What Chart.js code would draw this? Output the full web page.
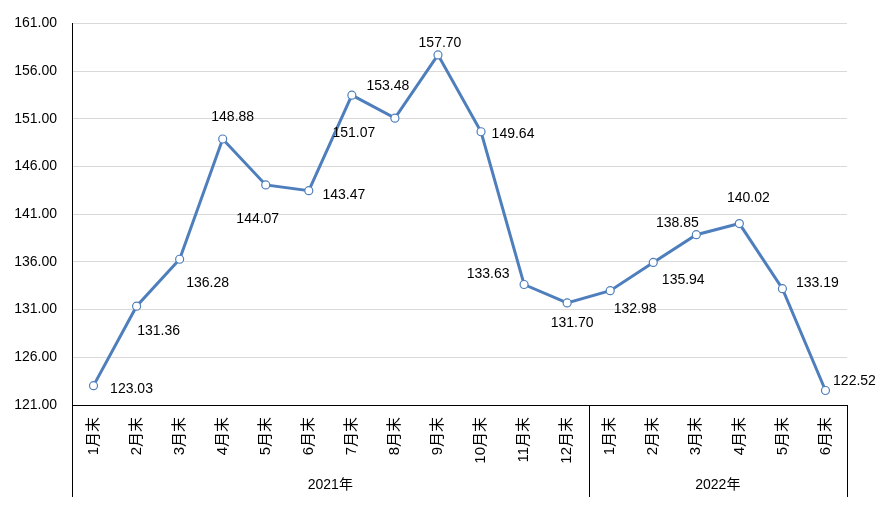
<!DOCTYPE html>
<html>
<head>
<meta charset="utf-8">
<script src="https://cdn.jsdelivr.net/npm/chart.js@4"></script>
<style>
  html, body { margin: 0; padding: 0; background: #fff; }
  #wrap { width: 879px; height: 515px; }
</style>
</head>
<body>
<div id="wrap"><canvas id="myChart" width="879" height="515"></canvas></div>
<script>
let months = ['1月末','2月末','3月末','4月末','5月末','6月末','7月末','8月末','9月末','10月末','11月末','12月末',
              '1月末','2月末','3月末','4月末','5月末','6月末'];
let years = ['2021年', '2022年'];
let yearSizes = [12, 6];
let values = [123.03, 131.36, 136.28, 148.88, 144.07, 143.47, 153.48, 151.07, 157.70, 149.64, 133.63, 131.70,
              132.98, 135.94, 138.85, 140.02, 133.19, 122.52];

// where each value label sits, relative to its point (px)
let labelOffsets = [[38,4],[22,25],[28,24],[10,-22],[-8,34],[35,5],[36,-9],[-41,15],[2,-12],[32,2],
                    [-36,-10],[5,20],[25,18],[30,18],[-19,-12],[9,-25],[35,-6],[29,-9]];

let fontFam = "'Liberation Sans', 'Noto Sans CJK SC', sans-serif";
let blue = '#4e7fbc';

let extras = {
    id: 'extras',
    afterDatasetsDraw(chart) {
        let ctx = chart.ctx;
        let meta = chart.getDatasetMeta(0);
        ctx.save();
        ctx.font = '14px ' + fontFam;
        ctx.fillStyle = '#000';
        ctx.textAlign = 'center';
        ctx.textBaseline = 'middle';
        meta.data.forEach((pt, i) => {
            ctx.fillText(values[i].toFixed(2), pt.x + labelOffsets[i][0], pt.y + labelOffsets[i][1]);
        });
        ctx.restore();
    },
    afterDraw(chart) {
        let ctx = chart.ctx;
        let x = chart.scales.x;
        let area = chart.chartArea;
        let step = x.getPixelForValue(1) - x.getPixelForValue(0);
        let bottom = area.bottom + 92;
        ctx.save();
        ctx.strokeStyle = '#000';
        ctx.lineWidth = 1;
        ctx.font = '14px ' + fontFam;
        ctx.fillStyle = '#000';
        ctx.textAlign = 'center';
        ctx.textBaseline = 'middle';
        let start = 0;
        let edges = [x.getPixelForValue(0) - step / 2];
        years.forEach((y, i) => {
            let left = x.getPixelForValue(start) - step / 2;
            let right = x.getPixelForValue(start + yearSizes[i] - 1) + step / 2;
            edges.push(right);
            ctx.fillText(y, (left + right) / 2, area.bottom + 80);
            start += yearSizes[i];
        });
        edges.forEach(e => {
            let ex = Math.round(e) + 0.5;
            ctx.beginPath();
            ctx.moveTo(ex, area.bottom);
            ctx.lineTo(ex, bottom);
            ctx.stroke();
        });
        ctx.restore();
    }
};

let chart1 = new Chart(document.getElementById('myChart').getContext('2d'), {
    type: 'line',
    data: {
        labels: months,
        datasets: [{
            data: values,
            borderColor: blue,
            borderWidth: 3,
            pointRadius: 4,
            pointBackgroundColor: '#fff',
            pointBorderColor: blue,
            pointBorderWidth: 1.2,
            tension: 0
        }]
    },
    options: {
        responsive: false,
        animation: false,
        layout: { padding: { left: 0, right: 32, top: 22, bottom: 0 } },
        plugins: {
            legend: { display: false },
            tooltip: { enabled: false }
        },
        scales: {
            x: {
                offset: true,
                grid: { display: false, drawTicks: false },
                border: { display: true, color: '#000', width: 1 },
                ticks: {
                    color: '#000',
                    font: { size: 15, family: fontFam },
                    minRotation: 90,
                    maxRotation: 90,
                    padding: 12,
                    autoSkip: false
                },
                afterFit(scale) { scale.height = 110; }
            },
            y: {
                min: 121,
                max: 161,
                grid: { color: '#d9d9d9', drawTicks: false },
                border: { display: true, color: '#000', width: 1 },
                ticks: {
                    stepSize: 5,
                    color: '#000',
                    font: { size: 14, family: fontFam },
                    padding: 15,
                    callback: v => v.toFixed(2)
                },
                afterFit(scale) { scale.width = 72; }
            }
        }
    },
    plugins: [extras]
});
</script>
</body>
</html>
